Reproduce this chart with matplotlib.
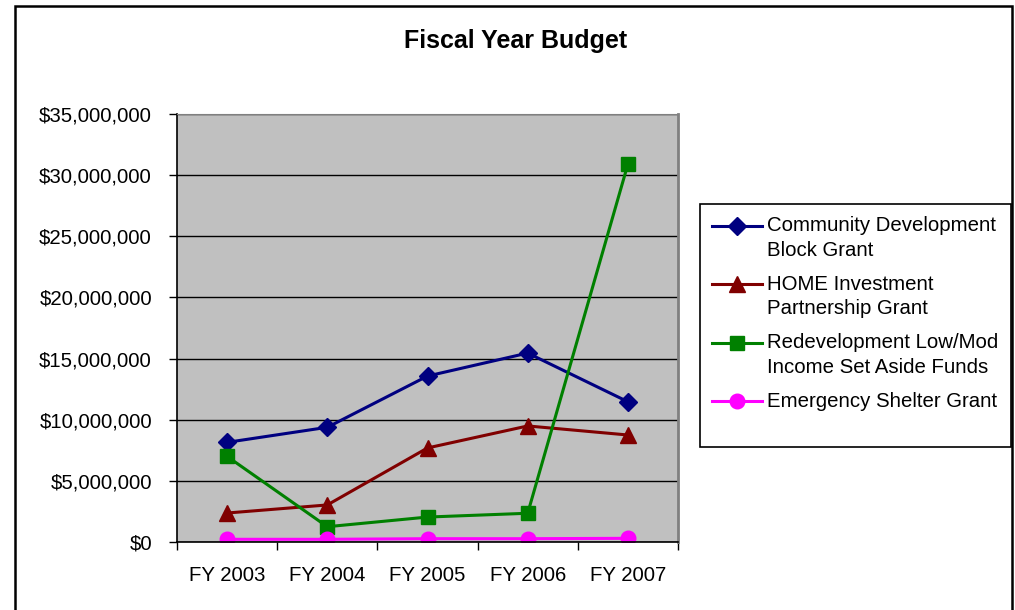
import matplotlib
matplotlib.use('Agg')
import matplotlib.pyplot as plt
from matplotlib import ticker
from matplotlib.legend_handler import HandlerLine2D
from matplotlib.patches import Rectangle

plt.rcParams['font.family'] = ['Liberation Sans', 'DejaVu Sans']

years = ['FY 2003', 'FY 2004', 'FY 2005', 'FY 2006', 'FY 2007']
cdbg = [8150000, 9380000, 13570000, 15450000, 11470000]
home = [2370000, 3030000, 7690000, 9490000, 8750000]
redev = [7000000, 1250000, 2040000, 2350000, 30900000]
esg = [220000, 220000, 270000, 270000, 300000]

labels = ['Community Development\nBlock Grant',
          'HOME Investment\nPartnership Grant',
          'Redevelopment Low/Mod\nIncome Set Aside Funds',
          'Emergency Shelter Grant\n ']


class FirstLineHandler(HandlerLine2D):
    # put the legend marker on the first text line, as Excel does
    def __init__(self, shift, **kw):
        super().__init__(**kw)
        self.shift = shift

    def create_artists(self, legend, orig_handle, xdescent, ydescent,
                       width, height, fontsize, trans):
        return super().create_artists(legend, orig_handle, xdescent,
                                      ydescent - 2 * self.shift, width,
                                      height, fontsize, trans)


fs = 14.7
fig = plt.figure(figsize=(10.15, 6.1), dpi=100)
ax = fig.add_axes([177 / 1015, 1 - 542 / 610, 501 / 1015, 428 / 610])
ax.set_facecolor('#C0C0C0')

x = range(len(years))
l1, = ax.plot(x, cdbg, color='#000080', lw=2.2, marker='D', ms=9.5)
l2, = ax.plot(x, home, color='#800000', lw=2.2, marker='^', ms=11)
l3, = ax.plot(x, redev, color='#008000', lw=2.2, marker='s', ms=10.5)
l4, = ax.plot(x, esg, color='#FF00FF', lw=2.2, marker='o', ms=10.5)

ax.set_xlim(-0.5, len(years) - 0.5)
ax.set_ylim(0, 35000000)
ax.yaxis.set_major_locator(ticker.MultipleLocator(5000000))
ax.yaxis.set_major_formatter(ticker.FuncFormatter(lambda v, p: f'${v:,.0f}'))
ax.grid(axis='y', color='black', lw=1)
ax.set_axisbelow(True)

ax.set_xticks([i - 0.5 for i in range(len(years) + 1)])
ax.set_xticklabels([])
ax.set_xticks(list(x), minor=True)
ax.set_xticklabels(years, minor=True)
ax.tick_params(axis='x', which='major', length=6, width=1, direction='out')
ax.tick_params(axis='x', which='minor', length=0, pad=17.5, labelsize=fs)
ax.tick_params(axis='y', length=6, width=1, direction='out', pad=12, labelsize=fs)

for s in ['left', 'bottom']:
    ax.spines[s].set_color('black')
    ax.spines[s].set_linewidth(1.2)
ax.spines['top'].set_color('#808080')
ax.spines['right'].set_color('#808080')
ax.spines['right'].set_linewidth(2)

fig.text(0.508, 1 - 41 / 610, 'Fiscal Year Budget', ha='center', va='center',
         fontsize=18, fontweight='bold')

hmap = {h: FirstLineHandler(9.2) for h in [l1, l2, l3, l4]}
leg = fig.legend([l1, l2, l3, l4], labels, loc='upper left',
                 bbox_to_anchor=(700 / 1015, 1 - 204 / 610),
                 borderaxespad=0, fontsize=fs, handlelength=2.45,
                 handletextpad=0.25, labelspacing=0.74, borderpad=0.6,
                 fancybox=False, edgecolor='black', framealpha=1,
                 handler_map=hmap)
leg.get_frame().set_linewidth(1.2)
for t in leg.get_texts():
    t.set_linespacing(1.36)

# outer chart border
fig.patches.append(Rectangle((15 / 1015, -0.05), 997 / 1015, 1.05 - 6 / 610,
                             transform=fig.transFigure, fill=False,
                             edgecolor='black', lw=1.8))

fig.savefig('out.png', dpi=100)
